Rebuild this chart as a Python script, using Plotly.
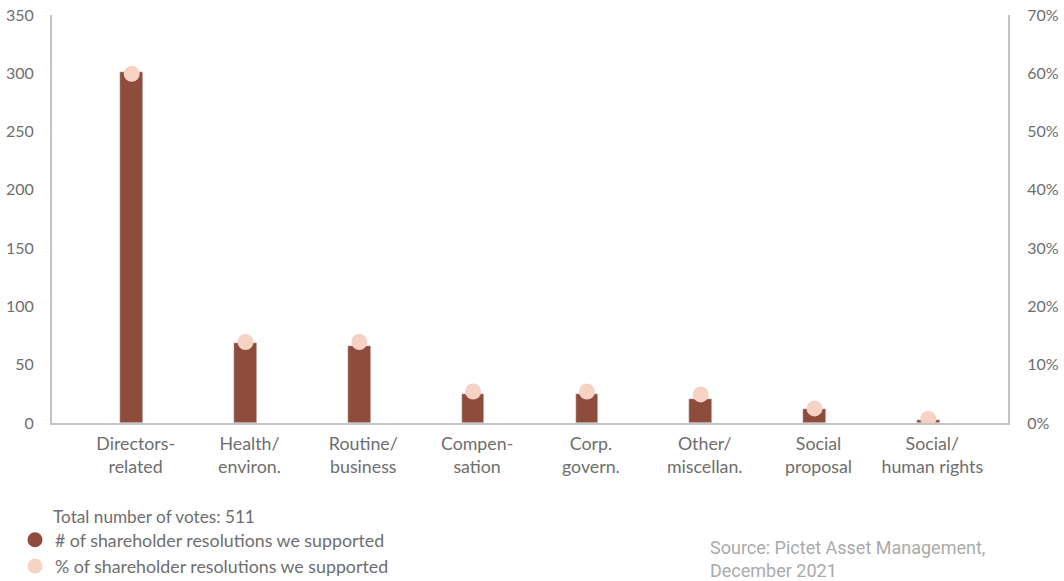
import plotly.graph_objects as go

categories = ["Directors-<br>related", "Health/<br>environ.", "Routine/<br>business", "Compen-<br>sation",
              "Corp.<br>govern.", "Other/<br>miscellan.", "Social<br>proposal", "Social/<br>human rights"]
counts = [301, 69, 66, 25, 25, 21, 12, 3]
pct = [59.9, 13.9, 13.9, 5.4, 5.4, 4.9, 2.5, 0.7]
left_ticks = [0, 50, 100, 150, 200, 250, 300, 350]
right_ticks = [0, 10, 20, 30, 40, 50, 60, 70]
right_labels = [f"{v}%" for v in right_ticks]

BAR = "#8e4d3c"
DOT = "#f6d2c5"
GREY = "#6e6e6e"
FONT = "Lato, Open Sans, sans-serif"

fig = go.Figure()
fig.add_trace(go.Bar(x=list(range(len(categories))), y=counts, marker_color=BAR, width=0.2,
                     showlegend=False, yaxis="y"))
fig.add_trace(go.Scatter(x=list(range(len(categories))), y=pct, mode="markers",
                         marker=dict(color=DOT, size=16), showlegend=False, yaxis="y2"))
# legend entries
fig.add_trace(go.Scatter(x=[None], y=[None], mode="markers", marker=dict(color=BAR, size=15),
                         name="# of shareholder resolutions we supported"))
fig.add_trace(go.Scatter(x=[None], y=[None], mode="markers", marker=dict(color=DOT, size=15),
                         name="% of shareholder resolutions we supported"))

fig.update_layout(
    width=1064, height=581,
    margin=dict(l=52, r=56, t=15, b=158, autoexpand=False),
    plot_bgcolor="white", paper_bgcolor="white",
    font=dict(family=FONT, color=GREY, size=15),
    xaxis=dict(range=[-0.7, 7.7], tickmode="array", tickvals=list(range(len(categories))),
               ticktext=categories, showgrid=False, showline=True, linecolor="#c4c4c4", linewidth=2,
               ticks="", tickfont=dict(size=17.8), zeroline=False, automargin=False,
               ticklabelstandoff=4, ticklabelshift=4),
    yaxis=dict(range=[0, 350], tickmode="array", tickvals=left_ticks, showgrid=False, showline=True,
               linecolor="#c4c4c4", linewidth=2, zeroline=False, ticks="", ticklabelstandoff=13,
               tickfont=dict(size=16), automargin=False),
    yaxis2=dict(range=[0, 70], tickmode="array", tickvals=right_ticks, ticktext=right_labels,
                overlaying="y", side="right",
                showgrid=False, showline=True, linecolor="#c4c4c4", linewidth=2, zeroline=False,
                ticks="", ticklabelstandoff=14, tickfont=dict(size=16), automargin=False),
    legend=dict(x=0.0141, y=0.102, xref="container", yref="container", xanchor="left", yanchor="top",
                font=dict(size=17.8, color=GREY), itemwidth=30, tracegroupgap=0,
                bgcolor="rgba(0,0,0,0)"),
    bargap=0,
)
fig.add_annotation(text="Total number of votes: 511", xref="paper", yref="paper",
                   x=-0.001, y=-0.228, xanchor="left", yanchor="middle", showarrow=False,
                   font=dict(size=17.2, color=GREY))
fig.add_annotation(text="Source: Pictet Asset Management,<br>December 2021", xref="paper", yref="paper",
                   x=0.686, y=-0.275, xanchor="left", yanchor="top", align="left", showarrow=False,
                   font=dict(size=18, color="#aaaaaa", family="Liberation Sans Narrow, Roboto, sans-serif"))

fig.write_html("out.html", config={"displayModeBar": False},
               post_script="document.body.style.margin='0';")
